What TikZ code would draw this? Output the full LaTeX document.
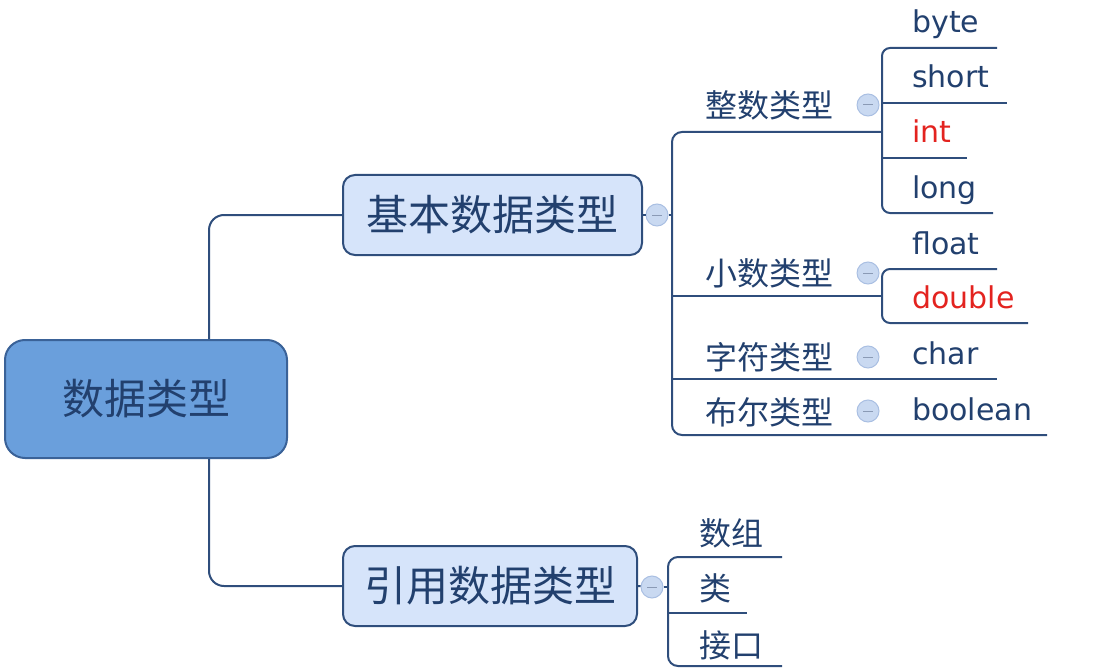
\documentclass[tikz,border=0pt]{standalone}
\usepackage{fontspec}
\usepackage{tikz}
\newfontfamily\cjk{Noto Sans CJK SC}
\newfontfamily\latinleaf{DejaVu Sans}
\definecolor{linecol}{HTML}{2F4E7C}
\definecolor{textcol}{HTML}{22406E}
\definecolor{rootfill}{HTML}{6A9FDC}
\definecolor{rootline}{HTML}{3A6298}
\definecolor{boxfill}{HTML}{D6E4FA}
\definecolor{redtxt}{HTML}{E3231F}
\definecolor{knobfill}{HTML}{C9D9F1}
\definecolor{knobline}{HTML}{A9BFE2}
\definecolor{minuscol}{HTML}{8A9AB5}

\begin{document}
\begin{tikzpicture}[x=1pt,y=-1pt,
    conn/.style={draw=linecol,line width=2pt},
    rootbox/.style={draw=rootline,fill=rootfill,line width=2pt,rounded corners=20pt,
        minimum width=282pt,minimum height=118pt,inner sep=0pt,text=textcol,
        font=\cjk\fontsize{42}{48}\selectfont},
    typebox/.style={draw=linecol,fill=boxfill,line width=2pt,rounded corners=12pt,
        minimum width=299pt,minimum height=80pt,inner sep=0pt,text=textcol,
        font=\cjk\fontsize{42}{48}\selectfont},
    knob/.style={circle,fill=knobfill,draw=knobline,line width=1pt,minimum size=22pt,inner sep=0pt,
        path picture={\draw[minuscol,line width=1pt]
            ([xshift=-5pt]path picture bounding box.center) -- ([xshift=5pt]path picture bounding box.center);}},
    kind/.style={font=\cjk\fontsize{32}{36}\selectfont,text=textcol,inner sep=0pt,anchor=west},
    leaf/.style={font=\latinleaf\fontsize{30}{34}\selectfont,text=textcol,inner sep=0pt,anchor=base west},
    hot/.style={leaf,text=redtxt}]
  \useasboundingbox (0,0) rectangle (1113,671);

  % main boxes
  \node[rootbox] (root) at (146,399) {数据类型};
  \node[typebox] (basic) at (492.5,215) {基本数据类型};
  \node[typebox,minimum width=294pt] (ref) at (490,586) {引用数据类型};
  \coordinate (trunk) at (209,0);
  \draw[conn,rounded corners=15pt] (root.north -| trunk) |- (basic.west);
  \draw[conn,rounded corners=15pt] (root.south -| trunk) |- (ref.west);

  % basic types
  \node[knob] (kb) at (657,215) {};
  \coordinate (brk) at (672,0);
  \draw[conn] (basic.east) -- (kb);
  \draw[conn] (kb) -- (kb -| brk);
  \coordinate (intj) at (882,132);
  \coordinate (decj) at (882,296);
  \coordinate (charend) at (997,379);
  \coordinate (boolend) at (1047,435);
  \draw[conn,rounded corners=10pt] (intj) -| (boolend -| brk) -- (boolend);
  \draw[conn] (decj -| brk) -- (decj);
  \draw[conn] (charend -| brk) -- (charend);

  \node[kind] (int) at (705,105) {整数类型};
  \node[kind] (dec) at (705,273) {小数类型};
  \node[kind] (chr) at (705,357) {字符类型};
  \node[kind] (bool) at (705,412) {布尔类型};
  \node[knob] (kint) at (868,105) {};
  \node[knob] (kdec) at (868,273) {};
  \node[knob] (kchr) at (868,357) {};
  \node[knob] (kbool) at (868,411) {};

  % leaves
  \coordinate (sub) at (882,0);
  \coordinate (byteend) at (997,48);
  \coordinate (shortend) at (1007,103);
  \coordinate (intend) at (967,158);
  \coordinate (longend) at (993,213);
  \draw[conn,rounded corners=8pt] (byteend) -| (longend -| sub) -- (longend);
  \draw[conn] (shortend -| sub) -- (shortend);
  \draw[conn] (intend -| sub) -- (intend);
  \coordinate (floatend) at (997,269);
  \coordinate (doubleend) at (1028,323);
  \draw[conn,rounded corners=8pt] (floatend) -| (doubleend -| sub) -- (doubleend);

  \node[leaf] (byte) at (912,33) {byte};
  \node[leaf] (short) at (912,88) {short};
  \node[hot] (intv) at (912,143) {int};
  \node[leaf] (long) at (912,198) {long};
  \node[leaf] (float) at (912,254) {float};
  \node[hot] (double) at (912,308) {double};
  \node[leaf] (char) at (912,364) {char};
  \node[leaf] (boolean) at (912,420) {boolean};

  % reference types
  \node[knob] (kr) at (652,587) {};
  \coordinate (rbrk) at (668,0);
  \draw[conn] (ref.east) -- (kr);
  \draw[conn] (kr) -- (kr -| rbrk);
  \coordinate (arrend) at (782,557);
  \coordinate (clsend) at (747,613);
  \coordinate (ifend) at (782,666);
  \draw[conn,rounded corners=10pt] (arrend) -| (ifend -| rbrk) -- (ifend);
  \draw[conn] (clsend -| rbrk) -- (clsend);
  \node[kind] (arr) at (699,533) {数组};
  \node[kind] (cls) at (699,588) {类};
  \node[kind] (iface) at (699,645) {接口};
\end{tikzpicture}
\end{document}
